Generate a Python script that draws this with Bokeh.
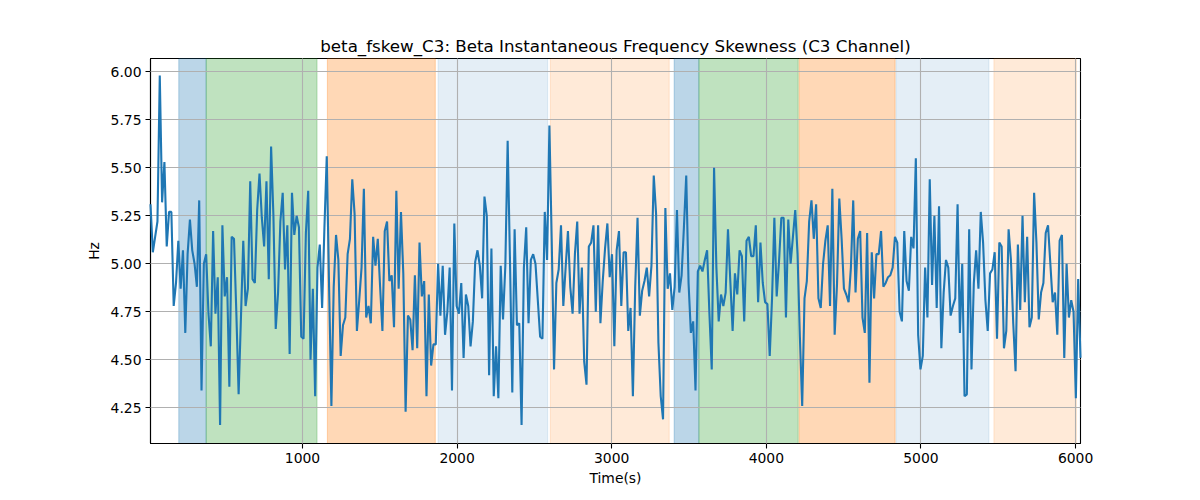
from bokeh.plotting import figure
from bokeh.models import BoxAnnotation, FixedTicker, Range1d, NumeralTickFormatter
from bokeh.embed import file_html
from bokeh.resources import INLINE

# sampling of the skewness series (seconds)
T_START = 17
T_STEP = 15

# beta instantaneous frequency skewness, C3 channel (Hz)
skew_hz = [
    5.31, 5.06, 5.14, 5.22, 5.98, 5.32, 5.53, 5.09, 5.27, 5.27,
    4.78, 4.90, 5.12, 4.87, 5.07, 4.64, 5.05, 5.23, 5.07, 5.00,
    4.88, 5.33, 4.34, 5.00, 5.05, 4.74, 4.57, 5.17, 4.74, 4.93,
    4.16, 5.20, 4.83, 4.93, 4.36, 5.14, 5.13, 4.75, 4.32, 4.72,
    5.12, 4.78, 4.87, 5.43, 4.92, 4.90, 5.28, 5.47, 5.24, 5.09,
    5.43, 4.92, 5.61, 5.25, 4.66, 4.85, 5.22, 5.37, 4.97, 5.20,
    4.53, 5.37, 5.15, 5.25, 5.19, 4.62, 4.61, 5.16, 5.38,
    4.50, 4.87, 4.31, 4.98, 5.10, 4.77, 5.19, 5.56, 4.88, 4.26,
    4.88, 5.15, 5.02, 4.52, 4.68, 4.72, 5.05, 5.13, 5.44, 5.26,
    4.65, 4.81, 4.98, 5.39, 4.72, 4.78, 4.69, 5.14, 4.99, 5.13,
    4.88, 4.65, 5.17, 5.22, 4.91, 4.94, 4.67, 5.38, 4.87, 5.27,
    4.95, 4.23, 4.73, 4.71, 4.55, 4.94, 4.56, 5.11, 4.83, 4.91,
    4.31, 4.84, 4.47, 4.58, 4.58, 5.00, 4.73, 4.99, 4.63, 4.75,
    4.98, 4.34, 5.21, 4.78, 4.74, 4.90,
    4.51, 4.84, 4.78, 4.57, 4.70, 5.01, 5.07, 4.99, 4.82, 5.35,
    5.25, 4.42, 5.08, 4.31, 4.57, 4.30, 4.99, 4.71, 4.99, 5.64,
    5.02, 4.33, 5.18, 4.68, 4.69, 4.16, 4.98, 5.19, 4.69, 5.02,
    5.05, 5.00, 4.81, 4.62, 4.61, 5.27, 5.02, 5.72, 5.12, 4.45,
    4.90, 4.97, 5.20, 4.78, 4.98, 5.17, 4.88, 4.74, 5.05, 5.22,
    4.74, 4.98, 4.49, 4.37, 5.09, 5.11, 5.20, 4.75, 5.20, 4.69,
    4.91, 5.08, 5.21, 4.93, 5.05, 4.57, 5.07, 5.17, 4.78,
    5.06, 5.06, 4.65, 4.77, 4.31, 4.88, 5.24, 4.73, 4.86, 4.91,
    4.98, 4.83, 4.99, 5.46, 5.26, 4.59, 4.31, 4.19, 5.29, 4.87,
    4.95, 4.76, 4.88, 5.28, 4.85, 4.94, 5.19, 5.46, 4.90, 4.64,
    4.70, 4.34, 4.96, 4.99, 4.96, 5.02, 5.07, 4.74, 4.45, 5.50,
    4.98, 4.70, 4.84, 4.78, 4.85, 5.18, 4.91, 4.65, 4.95, 4.84,
    5.07, 5.04, 4.70, 5.12, 5.14, 5.04, 5.04, 5.20, 4.80, 5.11,
    4.90, 4.80, 4.79, 4.52, 4.82, 5.24, 4.83, 5.01, 5.24,
    5.24, 4.72, 5.23, 5.00, 5.14, 5.28, 5.05, 4.62, 4.26, 4.82,
    4.91, 5.22, 5.33, 5.13, 5.31, 4.82, 4.77, 5.00, 5.12, 5.20,
    4.78, 5.39, 4.63, 4.89, 5.34, 5.13, 4.87, 4.84, 4.80, 4.98,
    5.33, 4.85, 5.13, 5.17, 4.72, 4.64, 5.16, 4.38, 5.06, 4.82,
    5.05, 5.05, 5.17, 4.88, 4.90, 4.93, 4.94, 4.98, 5.14, 5.11,
    4.75, 4.70, 5.17, 4.91, 4.86, 5.14, 5.08, 5.55, 4.63, 4.45,
    4.52, 4.98, 4.72, 5.44, 4.89, 5.25, 4.77, 5.30, 4.56,
    4.85, 5.02, 4.98, 4.73, 4.78, 4.82, 5.31, 4.64, 5.00, 4.31,
    4.32, 5.18, 4.45, 4.90, 5.07, 4.87, 5.27, 5.11, 4.81, 4.65,
    4.95, 4.97, 5.06, 4.61, 5.11, 5.09, 4.56, 4.65, 5.18, 5.02,
    4.69, 4.44, 5.10, 4.76, 5.25, 4.80, 5.14, 4.67, 4.72, 5.37,
    5.11, 4.71, 4.85, 4.90, 5.16, 5.20, 5.00, 4.80, 4.85, 4.63,
    5.12, 5.15, 4.51, 5.00, 4.72, 4.81, 4.75, 4.30, 4.92, 4.51,
]
time_s = [T_START + T_STEP * i for i in range(len(skew_hz))]

# shaded stage intervals (seconds)
stage_start = [200, 377, 1161, 1877, 2603, 3404, 3564, 4212, 4839, 5472]
stage_end = [377, 1094, 1859, 2586, 3372, 3564, 4206, 4833, 5440, 6005]
stage_color = ["#1f77b4", "#2ca02c", "#ff7f0e", "#1f77b4", "#ff7f0e",
               "#1f77b4", "#2ca02c", "#ff7f0e", "#1f77b4", "#ff7f0e"]
stage_alpha = [0.3, 0.3, 0.3, 0.12, 0.16, 0.3, 0.3, 0.3, 0.12, 0.16]

x_ticks = [1000, 2000, 3000, 4000, 5000, 6000]
y_ticks = [4.25, 4.50, 4.75, 5.00, 5.25, 5.50, 5.75, 6.00]

FONT = "DejaVu Sans"

p = figure(frame_width=930, frame_height=385,
           min_border_left=150, min_border_right=104,
           min_border_top=58, min_border_bottom=41,
           x_range=Range1d(time_s[0], time_s[-1]),
           y_range=Range1d(4.064, 6.069),
           output_backend="svg", toolbar_location=None,
           title="beta_fskew_C3: Beta Instantaneous Frequency Skewness (C3 Channel)")

p.background_fill_color = "white"
p.border_fill_color = "white"
p.outline_line_color = "black"
p.outline_line_width = 1.1

p.title.align = "center"
p.title.text_font = FONT
p.title.text_font_size = "16.7px"
p.title.text_font_style = "normal"
p.title.text_color = "black"
p.title.standoff = 5

for s, e, c, a in zip(stage_start, stage_end, stage_color, stage_alpha):
    p.add_layout(BoxAnnotation(left=s, right=e, fill_color=c, fill_alpha=a,
                               line_color=c, line_alpha=a, line_width=1,
                               level="underlay"))

p.line(time_s, skew_hz, line_color="#1f77b4", line_width=2.1, level="overlay")

for ax in (p.xaxis[0], p.yaxis[0]):
    ax.axis_line_color = "black"
    ax.axis_line_width = 1.1
    ax.major_tick_line_color = "black"
    ax.major_tick_line_width = 1.1
    ax.major_tick_out = 5
    ax.major_tick_in = 0
    ax.minor_tick_line_color = None
    ax.major_label_text_font = FONT
    ax.major_label_text_font_size = "13.9px"
    ax.major_label_text_color = "black"
    ax.major_label_standoff = 4
    ax.axis_label_text_font = FONT
    ax.axis_label_text_font_size = "13.9px"
    ax.axis_label_text_font_style = "normal"
    ax.axis_label_text_color = "black"
    ax.axis_label_standoff = 6

p.xaxis.axis_label_standoff = 4
p.xaxis.axis_label = "Time(s)"
p.yaxis.axis_label = "Hz"
p.xaxis.ticker = FixedTicker(ticks=x_ticks)
p.yaxis.ticker = FixedTicker(ticks=y_ticks)
p.xaxis.formatter = NumeralTickFormatter(format="0")
p.yaxis.formatter = NumeralTickFormatter(format="0.00")

p.xgrid.ticker = FixedTicker(ticks=x_ticks)
p.ygrid.ticker = FixedTicker(ticks=y_ticks)
for g in (p.xgrid[0], p.ygrid[0]):
    g.grid_line_color = "#b0b0b0"
    g.grid_line_width = 1.1
    g.level = "annotation"

open("out.html", "w").write(file_html(p, INLINE))
